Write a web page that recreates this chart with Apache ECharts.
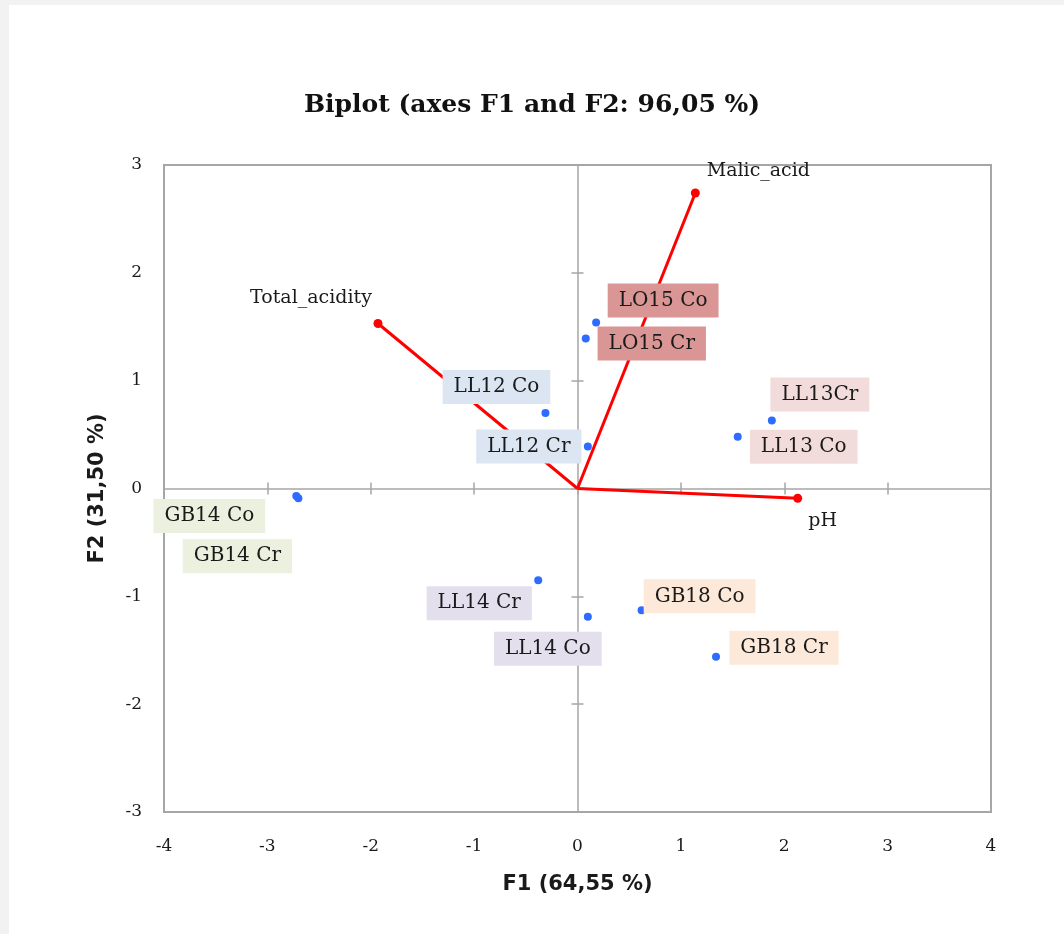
<!DOCTYPE html>
<html>
<head>
<meta charset="utf-8">
<script src="https://cdn.jsdelivr.net/npm/echarts@6/dist/echarts.min.js"></script>
<style>
html,body{margin:0;padding:0;background:#fff;}
#chart{width:1064px;height:934px;}
</style>
</head>
<body>
<div id="chart"></div>
<script>
// ---- data ----
const obsNames = ['GB14 Co','GB14 Cr','LL14 Cr','LL14 Co','GB18 Co','GB18 Cr','LL13 Co','LL13Cr','LL12 Co','LL12 Cr','LO15 Co','LO15 Cr'];
const obsF1 =    [-2.72, -2.70, -0.38, 0.10, 0.62, 1.34, 1.55, 1.88, -0.31, 0.10, 0.18, 0.08];
const obsF2 =    [-0.07, -0.09, -0.85, -1.19, -1.13, -1.56, 0.48, 0.63, 0.70, 0.39, 1.54, 1.39];
const varNames = ['Malic_acid','Total_acidity','pH'];
const varF1 =    [1.14, -1.93, 2.13];
const varF2 =    [2.74, 1.53, -0.09];
const axisTicks = [-4,-3,-2,-1,0,1,2,3,4];
const yTicks = [-3,-2,-1,0,1,2,3];

// ---- styles (label placement and colours) ----
const labelStyle = {
  'GB14 Co': {off:[-87,20],  bg:'#ebf1de'},
  'GB14 Cr': {off:[-61,58],  bg:'#ebf1de'},
  'LL14 Cr': {off:[-59,23],  bg:'#e4dfec'},
  'LL14 Co': {off:[-40,32],  bg:'#e4dfec'},
  'GB18 Co': {off:[58,-14],  bg:'#fde9d9'},
  'GB18 Cr': {off:[68,-9],   bg:'#fde9d9'},
  'LL13 Co': {off:[66,10],   bg:'#f2dcdb'},
  'LL13Cr':  {off:[48,-26],  bg:'#f2dcdb'},
  'LL12 Co': {off:[-49,-26], bg:'#dce6f2'},
  'LL12 Cr': {off:[-59,0],   bg:'#dce6f2'},
  'LO15 Co': {off:[67,-22],  bg:'#d99694'},
  'LO15 Cr': {off:[66,5],    bg:'#d99694'}
};
const varLabelOff = {'Malic_acid':[63,-22],'Total_acidity':[-67,-25],'pH':[25,23]};

const SERIF = '"DejaVu Serif", "Liberation Serif", serif';
const SANS = '"DejaVu Sans", sans-serif';
const AXIS_GRAY = '#a6a6a6';

const chart = echarts.init(document.getElementById('chart'));

const obsData = obsNames.map((n,i)=>({
  name:n,
  value:[obsF1[i], obsF2[i]],
  label:{
    show:true, formatter:n, position:'inside',
    offset: labelStyle[n].off,
    backgroundColor: labelStyle[n].bg,
    padding:[7,11,7,11],
    color:'#1a1a1a', fontFamily:SERIF, fontSize:20
  }
}));

const varSeries = varNames.map((n,i)=>({
  type:'line',
  name:n,
  xAxisIndex:0, yAxisIndex:0,
  z:2,
  data:[
    {value:[0,0], symbol:'none', symbolSize:0, label:{show:false}},
    {value:[varF1[i], varF2[i]], symbol:'circle', symbolSize:9,
     label:{show:true, formatter:n, position:'inside', offset:varLabelOff[n],
            color:'#1a1a1a', fontFamily:SERIF, fontSize:19}}
  ],
  showAllSymbol:true,
  lineStyle:{color:'#ff0000', width:3},
  itemStyle:{color:'#ff0000', opacity:1},
  emphasis:{disabled:true},
  animation:false
}));

function baseX(extra){
  return Object.assign({
    type:'value', min:axisTicks[0], max:axisTicks[axisTicks.length-1], interval:1,
    splitLine:{show:false}
  }, extra);
}
function baseY(extra){
  return Object.assign({
    type:'value', min:yTicks[0], max:yTicks[yTicks.length-1], interval:1,
    splitLine:{show:false}
  }, extra);
}

const option = {
  backgroundColor:'#ffffff',
  animation:false,
  title:{
    text:'Biplot (axes F1 and F2: 96,05 %)',
    left:'center', top:88,
    textStyle:{fontFamily:SERIF, fontWeight:'bold', fontSize:25, color:'#111'}
  },
  graphic:[
    {type:'rect', left:0, top:0, shape:{width:9, height:934}, style:{fill:'#f2f2f2'}, silent:true},
    {type:'rect', left:0, top:0, shape:{width:1064, height:5}, style:{fill:'#f2f2f2'}, silent:true}
  ],
  grid:{
    left:164, top:165, width:827, height:647,
    show:true, borderColor:AXIS_GRAY, borderWidth:2, backgroundColor:'transparent'
  },
  xAxis:[
    baseX({position:'bottom', axisLine:{show:false, onZero:false}, axisTick:{show:false},
      axisLabel:{show:true, margin:26, fontFamily:SERIF, fontSize:17, color:'#1a1a1a'},
      name:'F1 (64,55 %)', nameLocation:'middle', nameGap:62,
      nameTextStyle:{fontFamily:SANS, fontWeight:'bold', fontSize:21, color:'#1a1a1a'}}),
    baseX({position:'bottom', axisLine:{show:true, onZero:true, lineStyle:{color:AXIS_GRAY, width:1.5}},
      axisTick:{show:true, inside:true, length:6, lineStyle:{color:AXIS_GRAY, width:1.5}},
      axisLabel:{show:false}}),
    baseX({position:'bottom', axisLine:{show:false, onZero:true},
      axisTick:{show:true, inside:false, length:6, lineStyle:{color:AXIS_GRAY, width:1.5}},
      axisLabel:{show:false}})
  ],
  yAxis:[
    baseY({position:'left', axisLine:{show:false, onZero:false}, axisTick:{show:false},
      axisLabel:{show:true, margin:22, fontFamily:SERIF, fontSize:17, color:'#1a1a1a'},
      name:'F2 (31,50 %)', nameLocation:'middle', nameGap:56,
      nameTextStyle:{fontFamily:SANS, fontWeight:'bold', fontSize:21, color:'#1a1a1a'}}),
    baseY({position:'left', axisLine:{show:true, onZero:true, lineStyle:{color:AXIS_GRAY, width:1.5}},
      axisTick:{show:true, inside:true, length:6, lineStyle:{color:AXIS_GRAY, width:1.5}},
      axisLabel:{show:false}}),
    baseY({position:'left', axisLine:{show:false, onZero:true},
      axisTick:{show:true, inside:false, length:6, lineStyle:{color:AXIS_GRAY, width:1.5}},
      axisLabel:{show:false}})
  ],
  series:[
    ...varSeries,
    {
      type:'scatter', name:'Observations',
      xAxisIndex:0, yAxisIndex:0, z:3,
      symbol:'circle', symbolSize:8,
      itemStyle:{color:'#2e6bff', opacity:1},
      emphasis:{disabled:true},
      data:obsData
    }
  ]
};
chart.setOption(option);
</script>
</body>
</html>
